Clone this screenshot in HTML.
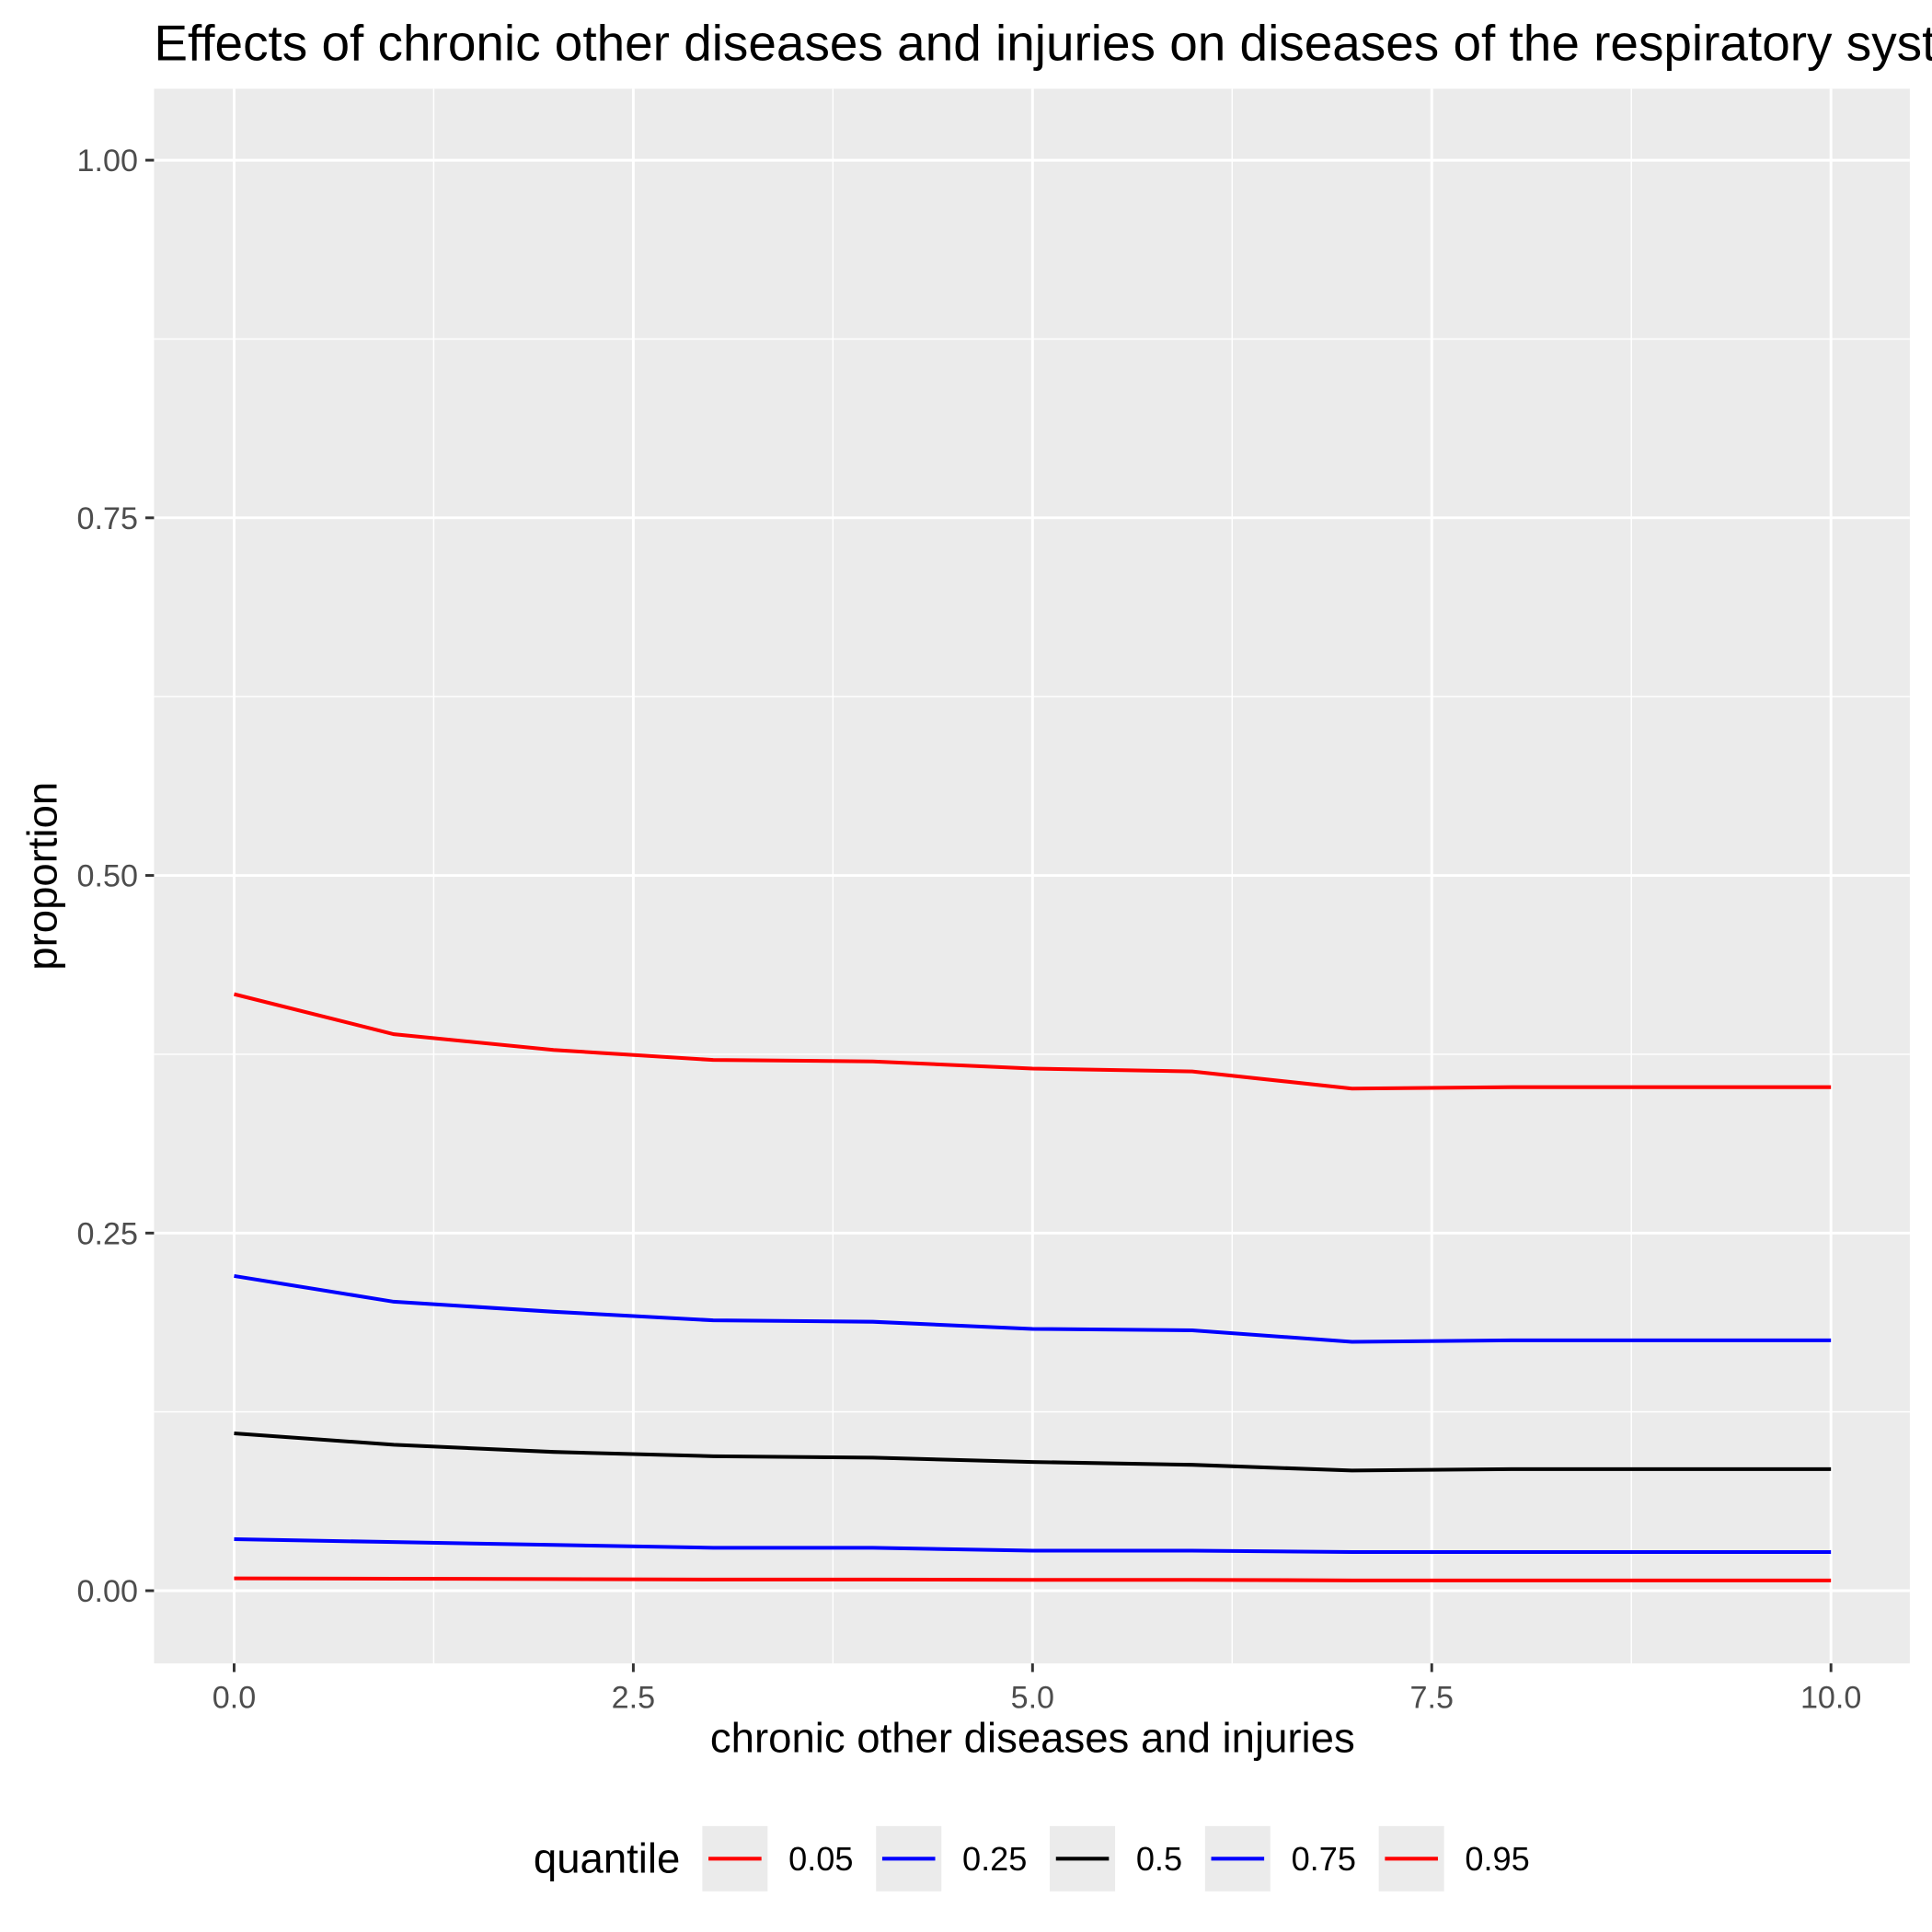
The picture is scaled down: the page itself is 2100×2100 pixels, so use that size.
<!DOCTYPE html>
<html><head><meta charset="utf-8"><style>html,body{margin:0;padding:0;background:#fff;overflow:hidden}svg{display:block}text{font-family:"Liberation Sans",Arial,sans-serif}</style></head>
<body>
<svg id="chart" width="2100" height="2100" viewBox="0 0 1568 1568" xmlns="http://www.w3.org/2000/svg">
<rect width="1568" height="1568" fill="#fff"/>
<text x="125" y="49" font-size="41" fill="#000">Effects of chronic other diseases and injuries on diseases of the respiratory system</text>
<rect x="125" y="72" width="1425" height="1278" fill="#ebebeb"/>
<g id="grid"></g>
<g id="series"></g>
<g id="axes"></g>
<text x="838" y="1422" font-size="34" text-anchor="middle" fill="#000">chronic other diseases and injuries</text>
<text transform="translate(46,711) rotate(-90)" font-size="34" text-anchor="middle" fill="#000">proportion</text>
<g id="legend">
<text x="433" y="1520" font-size="34" fill="#000">quantile</text>
</g>
</svg>
<script>
const xs = [0,1,2,3,4,5,6,7,8,9,10];
const q95 = [0.417,0.389,0.378,0.371,0.370,0.365,0.363,0.351,0.352,0.352,0.352];
const q75 = [0.220,0.202,0.195,0.189,0.188,0.183,0.182,0.174,0.175,0.175,0.175];
const q50 = [0.110,0.102,0.097,0.094,0.093,0.090,0.088,0.084,0.085,0.085,0.085];
const q25 = [0.036,0.034,0.032,0.030,0.030,0.028,0.028,0.027,0.027,0.027,0.027];
const q05 = [0.0086,0.0084,0.0081,0.0078,0.0078,0.0076,0.0076,0.0072,0.0072,0.0072,0.0072];
const xTicks = [0,2.5,5,7.5,10];
const xTickLabels = ["0.0","2.5","5.0","7.5","10.0"];
const yTicks = [0,0.25,0.5,0.75,1];
const yTickLabels = ["0.00","0.25","0.50","0.75","1.00"];
const legendLabels = ["0.05","0.25","0.5","0.75","0.95"];
const legendColors = ["#ff0000","#0000ff","#000000","#0000ff","#ff0000"];

const NS="http://www.w3.org/2000/svg";
const X = v => 190 + (1486-190)*v/10;
const Y = v => 1291 - (1291-130)*v;
function mk(tag, attrs, parent){const e=document.createElementNS(NS,tag);for(const k in attrs)e.setAttribute(k,attrs[k]);parent.appendChild(e);return e;}
const grid=document.getElementById('grid'), axes=document.getElementById('axes'), series=document.getElementById('series');
for(let i=0;i<xTicks.length-1;i++){const v=(xTicks[i]+xTicks[i+1])/2;const l=mk('line',{x1:X(v),x2:X(v),y1:72,y2:1350,stroke:'#fff','stroke-width':1.1},grid);

}
for(let i=0;i<yTicks.length;i++){const v=yTicks[i]+0.125;if(Y(v)<72)continue;const l=mk('line',{x1:125,x2:1550,y1:Y(v),y2:Y(v),stroke:'#fff','stroke-width':1.1},grid);

}
xTicks.forEach((v,i)=>{const l=mk('line',{x1:X(v),x2:X(v),y1:72,y2:1350,stroke:'#fff','stroke-width':2.2},grid);


const t=mk('line',{x1:X(v),x2:X(v),y1:1350,y2:1357,stroke:'#333','stroke-width':2.2},axes);


const tx=mk('text',{x:X(v),y:1386,'font-size':25.5,'text-anchor':'middle',fill:'#4d4d4d'},axes);tx.textContent=xTickLabels[i];

});
yTicks.forEach((v,i)=>{const l=mk('line',{x1:125,x2:1550,y1:Y(v),y2:Y(v),stroke:'#fff','stroke-width':2.2},grid);


const t=mk('line',{x1:118,x2:125,y1:Y(v),y2:Y(v),stroke:'#333','stroke-width':2.2},axes);


const tx=mk('text',{x:112,y:Y(v)+9,'font-size':25.5,'text-anchor':'end',fill:'#4d4d4d'},axes);tx.textContent=yTickLabels[i];

});
const sets=[[q05,'#ff0000','line-q05'],[q25,'#0000ff','line-q25'],[q50,'#000000','line-q50'],[q75,'#0000ff','line-q75'],[q95,'#ff0000','line-q95']];
sets.forEach(s=>{const p=mk('polyline',{points:xs.map((x,i)=>X(x)+','+Y(s[0][i])).join(' '),fill:'none',stroke:s[1],'stroke-width':3},series);

});
const leg=document.getElementById('legend');
const keyX=[570,711,852,978,1119], labX=[640,781,922,1048,1189];
legendLabels.forEach((lab,i)=>{const g=mk('g',{},leg);


mk('rect',{x:keyX[i],y:1482,width:53,height:53,fill:'#ebebeb'},g);
mk('line',{x1:keyX[i]+5,x2:keyX[i]+48,y1:1508.5,y2:1508.5,stroke:legendColors[i],'stroke-width':3},g);
const t=mk('text',{x:labX[i],y:1518,'font-size':27,fill:'#000'},g);t.textContent=lab;});
</script>
</body></html>
